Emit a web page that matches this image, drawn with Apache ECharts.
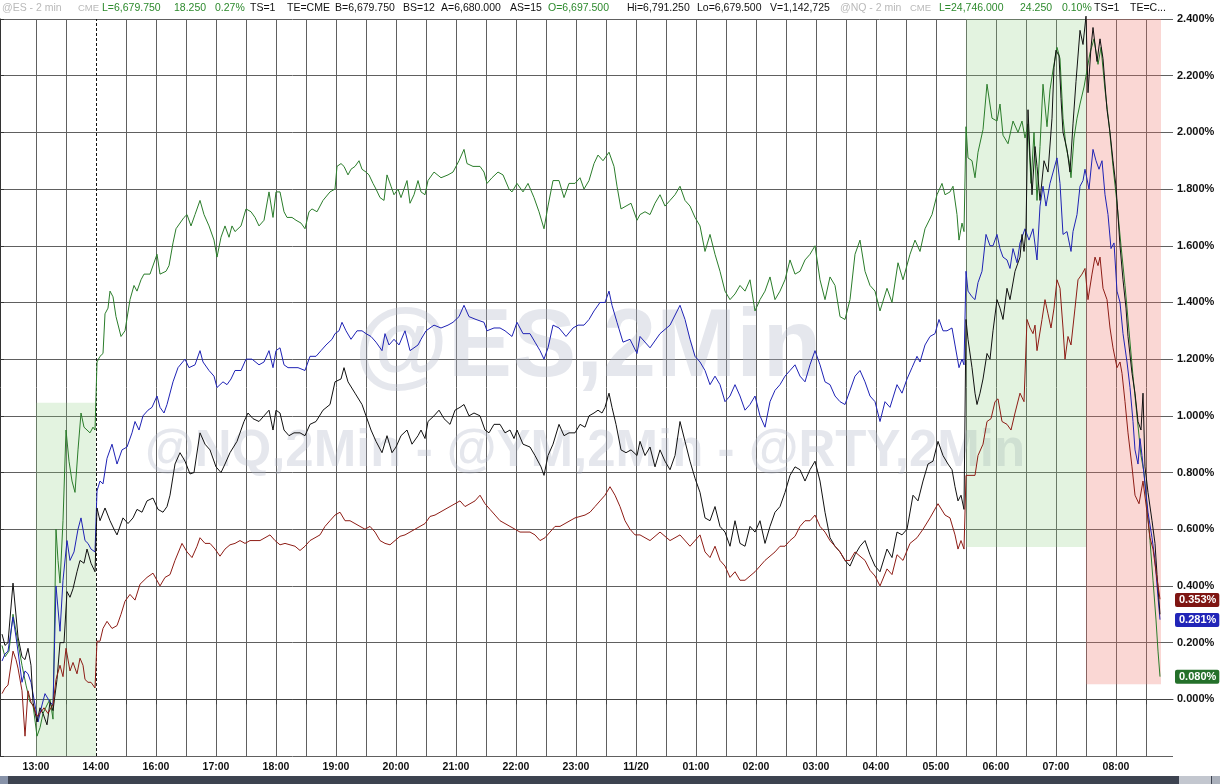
<!DOCTYPE html>
<html>
<head>
<meta charset="utf-8">
<title>@ES 2 min</title>
<script src="https://cdn.jsdelivr.net/npm/echarts@6/dist/echarts.min.js"></script>
<style>
  html, body { margin: 0; padding: 0; background: #fff; }
  #chart { width: 1220px; height: 784px; }
</style>
</head>
<body>
<div id="chart"></div>
<script>
// x = trading minutes since 12:24 (the 14:00-15:00 break is skipped), y = % change
const gridTicks = [36, 66, 126, 156, 186, 216, 246, 276, 306, 336, 366, 396, 426, 456, 486, 516, 546, 576, 606, 636,
  666, 696, 726, 756, 786, 816, 846, 876, 906, 936, 966, 996, 1026, 1056, 1086, 1116, 1146]
const hourTicks = [36, 96, 156, 216, 276, 336, 396, 456, 516, 576, 636, 696, 756, 816, 876, 936, 996, 1056, 1116]
const hourLabels = ['13:00', '14:00', '16:00', '17:00', '18:00', '19:00', '20:00', '21:00', '22:00', '23:00', '11/20',
  '01:00', '02:00', '03:00', '04:00', '05:00', '06:00', '07:00', '08:00']
const sessionBreak = 96

const green = [[2,0.19],[5,0.15],[9,0.17],[13,0.30],[18,0.20],[22,0.12],[26,0.05],[30,-0.01],[33,-0.02],[37,-0.13],[40,-0.10],[43,-0.05],[47,-0.02],[50,0.0],[53,-0.07],[56,0.60],[58,0.49],[60,0.41],[63,0.63],[66,0.95],[69,0.84],[72,0.77],[75,0.73],[78,0.88],[81,1.01],[84,0.96],[87,0.95],[90,0.94],[93,0.96],[95,0.95],
  [97,1.19],[100,1.21],[103,1.22],[105,1.36],[108,1.38],[110,1.44],[113,1.42],[116,1.35],[121,1.28],[125,1.30],[130,1.41],[134,1.46],[137,1.44],[141,1.48],[144,1.50],[150,1.50],[155,1.55],[157,1.57],[160,1.50],[166,1.51],[169,1.53],[173,1.61],[176,1.66],[184,1.70],[187,1.71],[191,1.67],[195,1.71],[200,1.76],[204,1.71],[209,1.67],[214,1.62],[217,1.56],[221,1.63],[225,1.67],[229,1.63],[232,1.67],[235,1.65],[241,1.67],[246,1.73],[251,1.72],[255,1.70],[259,1.67],[264,1.69],[269,1.79],[273,1.70],[276,1.79],[280,1.79],[284,1.72],[287,1.70],[292,1.70],[296,1.69],[301,1.68],[305,1.66],[309,1.72],[312,1.73],[317,1.72],[323,1.76],[330,1.79],[335,1.80],[337,1.88],[341,1.89],[344,1.88],[348,1.85],[351,1.87],[355,1.88],[359,1.90],[362,1.87],[366,1.86],[369,1.85],[373,1.82],[376,1.80],[380,1.77],[384,1.76],[387,1.85],[391,1.81],[394,1.78],[398,1.80],[401,1.77],[407,1.83],[410,1.75],[414,1.78],[418,1.83],[421,1.79],[425,1.78],[428,1.83],[434,1.86],[441,1.84],[448,1.85],[453,1.86],[459,1.90],[464,1.94],[467,1.89],[473,1.88],[480,1.88],[484,1.86],[487,1.82],[492,1.84],[498,1.86],[503,1.85],[509,1.80],[512,1.79],[517,1.82],[523,1.79],[528,1.82],[534,1.77],[539,1.72],[544,1.66],[548,1.74],[553,1.83],[559,1.83],[564,1.77],[569,1.82],[575,1.82],[580,1.84],[584,1.80],[589,1.83],[594,1.89],[598,1.92],[603,1.90],[609,1.93],[614,1.88],[617,1.81],[621,1.73],[626,1.74],[631,1.75],[637,1.69],
  [640,1.71],[645,1.72],[650,1.71],[655,1.75],[660,1.78],[665,1.74],[670,1.76],[675,1.78],[680,1.81],[685,1.76],[690,1.74],[695,1.70],[700,1.67],[705,1.58],[710,1.64],[715,1.57],[720,1.51],[725,1.44],[730,1.41],[735,1.43],[740,1.46],[745,1.44],[750,1.48],[755,1.37],[760,1.41],[765,1.44],[770,1.49],[775,1.41],[780,1.44],[785,1.48],[790,1.55],[795,1.50],[800,1.51],[805,1.55],[810,1.57],[815,1.60],[820,1.48],[825,1.41],[830,1.49],[835,1.46],[840,1.35],[845,1.34],[850,1.41],[855,1.57],[860,1.62],[865,1.51],[870,1.46],[875,1.44],[880,1.37],[887,1.45],[892,1.40],[898,1.54],[903,1.48],[910,1.57],[915,1.62],[920,1.58],[925,1.66],[932,1.71],[937,1.78],[942,1.82],[945,1.78],[950,1.79],[953,1.81],[957,1.71],[959,1.62],[962,1.68],[964,1.65],
  [966,2.02],[968,1.91],[972,1.90],[975,1.84],[978,1.93],[983,2.01],[987,2.17],[992,2.05],[997,2.04],[1000,2.10],[1003,1.99],[1008,1.96],[1013,2.04],[1018,2.00],[1022,2.04],[1025,1.98],[1028,2.03],[1031,1.82],[1034,2.00],[1037,1.76],[1040,1.95],[1043,2.17],[1047,2.02],[1050,2.15],[1053,2.22],[1057,2.30],[1060,2.26],[1063,2.05],[1066,1.95],[1069,1.90],[1071,1.84],[1074,1.98],[1077,2.05],[1080,2.10],[1084,2.16],[1087,2.22],[1090,2.28],[1094,2.33],[1098,2.24],[1101,2.30],[1105,2.15],[1109,2.03],[1113,1.88],[1117,1.75],[1121,1.60],[1125,1.46],[1129,1.30],[1133,1.14],[1137,1.00],[1141,0.86],[1144,0.80],[1147,0.68],[1150,0.56],[1153,0.42],[1156,0.28],[1158,0.17],[1160,0.08]]

const blue = [[2,0.135],[5,0.16],[8,0.17],[13,0.29],[16,0.22],[18,0.17],[22,0.06],[25,0.10],[28,0.09],[31,0.06],[35,-0.02],[38,-0.08],[42,-0.02],[45,0.02],[47,0.02],[50,-0.01],[53,-0.02],[56,0.40],[60,0.24],[63,0.42],[67,0.56],[70,0.49],[74,0.52],[78,0.60],[81,0.64],[85,0.56],[88,0.55],[91,0.53],[95,0.52],
  [97,0.735],[100,0.77],[103,0.76],[107,0.85],[112,0.90],[117,0.83],[122,0.88],[127,0.89],[132,0.94],[135,0.98],[139,0.95],[143,1.00],[148,1.02],[152,1.03],[157,1.07],[160,1.03],[164,1.01],[167,1.04],[173,1.12],[178,1.17],[185,1.20],[189,1.17],[195,1.18],[200,1.23],[203,1.19],[209,1.16],[214,1.14],[217,1.10],[223,1.12],[227,1.11],[231,1.13],[235,1.16],[241,1.16],[246,1.20],[252,1.20],[259,1.18],[264,1.19],[269,1.23],[273,1.17],[276,1.23],[280,1.24],[284,1.18],[288,1.17],[292,1.17],[298,1.17],[305,1.16],[310,1.21],[316,1.21],[321,1.23],[326,1.25],[332,1.27],[335,1.29],[339,1.30],[342,1.33],[346,1.30],[351,1.27],[357,1.30],[362,1.30],[366,1.29],[371,1.28],[376,1.26],[382,1.23],[385,1.29],[389,1.25],[394,1.27],[399,1.25],[405,1.30],[410,1.23],[418,1.25],[421,1.27],[426,1.30],[434,1.32],[441,1.31],[448,1.32],[453,1.33],[459,1.35],[464,1.39],[469,1.35],[476,1.34],[484,1.33],[487,1.30],[494,1.31],[500,1.31],[505,1.30],[512,1.28],[517,1.33],[523,1.29],[530,1.29],[535,1.26],[540,1.23],[544,1.20],[548,1.24],[553,1.32],[559,1.31],[566,1.28],[573,1.31],[578,1.32],[584,1.32],[589,1.34],[594,1.37],[600,1.40],[605,1.40],[609,1.44],[612,1.39],[617,1.33],[623,1.26],[630,1.27],[637,1.22],
  [640,1.28],[650,1.24],[660,1.29],[670,1.32],[680,1.39],[685,1.34],[690,1.27],[695,1.21],[700,1.19],[705,1.16],[710,1.11],[715,1.14],[720,1.11],[725,1.05],[730,1.07],[735,1.11],[740,1.07],[745,1.02],[750,1.04],[755,1.07],[760,1.00],[765,0.96],[770,1.05],[775,1.09],[780,1.11],[785,1.14],[790,1.16],[795,1.18],[800,1.14],[805,1.12],[810,1.18],[815,1.23],[820,1.18],[825,1.12],[830,1.11],[835,1.07],[840,1.05],[845,1.04],[850,1.09],[855,1.14],[860,1.16],[865,1.12],[870,1.07],[875,1.05],[880,0.98],[885,1.05],[890,1.03],[897,1.11],[902,1.08],[907,1.13],[912,1.17],[917,1.21],[920,1.19],[925,1.25],[930,1.28],[935,1.29],[939,1.34],[943,1.30],[947,1.30],[952,1.31],[955,1.25],[959,1.17],[962,1.20],[964,1.18],
  [966,1.51],[968,1.44],[972,1.42],[975,1.41],[978,1.47],[982,1.51],[986,1.64],[990,1.60],[993,1.60],[997,1.64],[1000,1.59],[1003,1.56],[1007,1.55],[1010,1.52],[1013,1.59],[1017,1.54],[1020,1.61],[1025,1.66],[1029,1.62],[1033,1.66],[1037,1.55],[1040,1.74],[1043,1.81],[1046,1.74],[1050,1.82],[1057,1.91],[1060,1.82],[1063,1.64],[1067,1.65],[1071,1.58],[1073,1.65],[1077,1.71],[1080,1.81],[1083,1.83],[1085,1.87],[1089,1.80],[1093,1.94],[1096,1.90],[1099,1.87],[1102,1.90],[1105,1.78],[1108,1.71],[1111,1.59],[1114,1.61],[1117,1.44],[1120,1.40],[1123,1.29],[1127,1.19],[1130,1.10],[1133,0.98],[1135,0.88],[1138,0.83],[1140,0.92],[1142,0.86],[1145,0.76],[1148,0.66],[1152,0.57],[1155,0.49],[1158,0.36],[1160,0.281]]

const black = [[2,0.23],[5,0.19],[8,0.20],[13,0.41],[18,0.22],[22,0.15],[25,0.14],[28,0.18],[31,0.12],[33,-0.01],[37,-0.08],[40,-0.03],[43,-0.05],[47,-0.09],[50,-0.01],[53,-0.04],[57,0.07],[60,0.20],[64,0.20],[67,0.38],[70,0.36],[73,0.39],[77,0.45],[80,0.49],[84,0.48],[87,0.53],[91,0.48],[95,0.45],
  [97,0.675],[100,0.63],[105,0.675],[110,0.63],[114,0.60],[117,0.58],[123,0.64],[128,0.62],[133,0.64],[137,0.67],[142,0.66],[147,0.70],[153,0.71],[158,0.67],[163,0.66],[167,0.68],[170,0.72],[175,0.83],[180,0.87],[185,0.84],[190,0.795],[194,0.80],[200,0.94],[205,0.90],[210,0.88],[216,0.82],[221,0.80],[225,0.83],[230,0.87],[237,0.91],[244,0.98],[248,1.01],[253,0.99],[259,0.98],[264,1.00],[269,1.02],[273,0.95],[276,1.02],[280,1.01],[284,0.95],[289,0.93],[294,0.94],[300,0.94],[305,0.93],[310,0.97],[316,0.98],[323,1.02],[330,1.04],[335,1.12],[341,1.13],[344,1.17],[348,1.12],[355,1.08],[362,1.04],[366,1.00],[371,0.95],[376,0.91],[382,0.87],[387,0.93],[392,0.87],[396,0.89],[401,0.93],[407,0.95],[412,0.90],[418,0.93],[421,0.95],[425,0.92],[428,0.98],[434,1.00],[439,1.02],[444,0.99],[450,0.97],[455,1.02],[460,1.03],[464,1.04],[469,1.00],[474,1.01],[480,1.00],[485,0.95],[489,0.94],[494,0.97],[500,0.97],[505,0.94],[510,0.95],[514,0.92],[517,0.95],[523,0.90],[530,0.89],[535,0.86],[541,0.82],[544,0.79],[548,0.86],[553,0.90],[559,0.97],[564,0.93],[569,0.94],[575,0.94],[580,0.97],[585,0.96],[589,1.00],[594,1.01],[598,1.02],[602,1.01],[605,1.03],[609,1.08],[612,1.03],[616,0.97],[621,0.88],[626,0.87],[631,0.88],[637,0.86],
  [640,0.91],[645,0.86],[650,0.89],[655,0.82],[660,0.88],[665,0.84],[670,0.81],[675,0.86],[680,0.98],[685,0.91],[690,0.84],[695,0.78],[700,0.73],[705,0.64],[710,0.63],[715,0.68],[720,0.61],[725,0.59],[730,0.54],[735,0.63],[740,0.55],[745,0.54],[750,0.61],[755,0.59],[760,0.63],[765,0.55],[770,0.61],[775,0.66],[780,0.68],[785,0.73],[790,0.79],[795,0.82],[800,0.81],[805,0.77],[810,0.81],[815,0.84],[820,0.77],[825,0.66],[830,0.57],[835,0.54],[840,0.52],[845,0.49],[850,0.47],[855,0.51],[860,0.54],[865,0.56],[870,0.51],[875,0.47],[880,0.45],[887,0.53],[892,0.50],[897,0.59],[902,0.58],[907,0.60],[913,0.72],[918,0.70],[923,0.77],[928,0.83],[933,0.84],[938,0.91],[943,0.86],[948,0.83],[952,0.81],[955,0.75],[958,0.70],[961,0.72],[964,0.67],
  [966,1.34],[968,1.27],[972,1.17],[975,1.08],[977,1.04],[980,1.08],[983,1.13],[987,1.22],[990,1.20],[993,1.30],[997,1.41],[1000,1.38],[1003,1.34],[1007,1.45],[1010,1.41],[1015,1.51],[1020,1.56],[1022,1.64],[1024,1.58],[1026,1.66],[1028,2.08],[1030,1.92],[1032,1.78],[1035,1.95],[1037,1.88],[1040,1.76],[1044,1.90],[1048,1.86],[1052,2.05],[1054,2.23],[1056,2.29],[1059,2.27],[1061,2.12],[1063,2.00],[1067,1.94],[1070,1.86],[1073,2.03],[1076,2.18],[1080,2.36],[1083,2.31],[1086,2.41],[1088,2.14],[1091,2.30],[1093,2.37],[1097,2.25],[1100,2.33],[1103,2.26],[1107,2.08],[1110,2.00],[1113,1.90],[1116,1.81],[1120,1.60],[1123,1.48],[1126,1.38],[1128,1.28],[1132,1.15],[1135,1.08],[1138,0.98],[1141,0.95],[1143,1.08],[1145,0.82],[1148,0.73],[1152,0.63],[1155,0.55],[1157,0.44],[1160,0.30]]

const brown = [[2,0.02],[5,0.04],[8,0.05],[13,0.17],[16,0.14],[18,0.11],[22,0.03],[25,-0.13],[28,0.03],[31,-0.01],[34,-0.03],[37,-0.06],[40,-0.05],[44,-0.03],[48,-0.05],[51,-0.03],[53,-0.02],[56,0.07],[60,0.12],[63,0.08],[66,0.18],[70,0.10],[73,0.13],[77,0.09],[80,0.145],[83,0.12],[85,0.07],[88,0.06],[91,0.06],[95,0.04],
  [97,0.205],[100,0.205],[103,0.25],[107,0.275],[112,0.25],[117,0.26],[121,0.30],[125,0.346],[130,0.37],[135,0.35],[140,0.406],[147,0.43],[153,0.445],[160,0.40],[165,0.43],[170,0.44],[175,0.49],[182,0.55],[187,0.52],[192,0.50],[197,0.54],[200,0.57],[205,0.55],[210,0.55],[215,0.53],[220,0.505],[225,0.53],[230,0.545],[235,0.55],[240,0.56],[245,0.55],[250,0.56],[255,0.56],[260,0.56],[265,0.57],[270,0.58],[275,0.56],[280,0.545],[285,0.55],[290,0.545],[295,0.54],[300,0.525],[305,0.54],[310,0.56],[315,0.57],[320,0.58],[325,0.61],[330,0.63],[335,0.65],[340,0.66],[345,0.63],[350,0.63],[355,0.62],[360,0.61],[365,0.60],[370,0.61],[375,0.59],[380,0.56],[385,0.55],[390,0.545],[395,0.56],[400,0.575],[405,0.58],[410,0.59],[415,0.60],[420,0.61],[425,0.62],[430,0.645],[435,0.65],[440,0.66],[445,0.67],[450,0.68],[455,0.69],[460,0.70],[465,0.68],[470,0.69],[475,0.70],[480,0.72],[485,0.69],[490,0.67],[495,0.65],[500,0.63],[505,0.62],[510,0.61],[515,0.60],[520,0.59],[525,0.59],[530,0.59],[535,0.58],[540,0.56],[545,0.57],[550,0.59],[555,0.61],[560,0.61],[565,0.62],[570,0.63],[575,0.64],[580,0.645],[585,0.65],[590,0.66],[595,0.68],[600,0.70],[605,0.72],[610,0.75],[615,0.72],[620,0.68],[625,0.63],[630,0.60],[635,0.58],
  [640,0.58],[650,0.56],[660,0.59],[670,0.56],[680,0.58],[690,0.54],[700,0.58],[705,0.52],[710,0.50],[715,0.54],[720,0.49],[725,0.47],[730,0.43],[735,0.45],[740,0.42],[745,0.42],[750,0.435],[755,0.45],[760,0.47],[765,0.49],[770,0.505],[775,0.52],[780,0.54],[785,0.54],[790,0.56],[795,0.575],[800,0.61],[805,0.63],[810,0.63],[815,0.65],[820,0.61],[825,0.59],[830,0.56],[835,0.54],[840,0.52],[845,0.49],[850,0.49],[855,0.52],[860,0.505],[865,0.49],[870,0.455],[875,0.435],[880,0.40],[887,0.46],[892,0.44],[897,0.51],[903,0.49],[910,0.55],[917,0.57],[923,0.60],[930,0.64],[938,0.69],[945,0.65],[950,0.64],[955,0.58],[958,0.53],[961,0.56],[964,0.53],
  [966,0.79],[970,0.79],[975,0.79],[978,0.86],[983,0.90],[987,0.98],[991,0.99],[995,1.05],[998,1.06],[1002,0.98],[1007,0.97],[1011,0.95],[1015,1.01],[1020,1.08],[1024,1.05],[1027,1.34],[1030,1.31],[1033,1.29],[1035,1.32],[1037,1.23],[1042,1.34],[1045,1.41],[1048,1.36],[1051,1.31],[1054,1.38],[1057,1.48],[1060,1.45],[1063,1.31],[1065,1.20],[1068,1.28],[1071,1.25],[1075,1.38],[1078,1.48],[1082,1.50],[1085,1.52],[1088,1.41],[1092,1.50],[1095,1.56],[1098,1.53],[1100,1.56],[1103,1.45],[1107,1.41],[1110,1.31],[1113,1.24],[1117,1.17],[1120,1.19],[1122,1.15],[1125,1.05],[1128,0.94],[1132,0.82],[1135,0.72],[1139,0.69],[1143,0.77],[1147,0.66],[1150,0.57],[1153,0.53],[1156,0.45],[1160,0.353]]

// shaded sessions: [xStart, xEnd, yLow, yHigh]
const greenZones = [[36, 96, -0.2, 1.046], [966, 1086, 0.537, 2.4]]
const redZones = [[1086, 1161, 0.053, 2.4]]

const header = [
  ['@ES - 2 min', 2, '#b9b9b9'], ['CME', 78, '#b9b9b9'], ['L=6,679.750', 102, '#2d8a2d'], ['18.250', 174, '#2d8a2d'],
  ['0.27%', 215, '#2d8a2d'], ['TS=1', 250, '#111'], ['TE=CME', 287, '#111'], ['B=6,679.750', 335, '#111'],
  ['BS=12', 403, '#111'], ['A=6,680.000', 441, '#111'], ['AS=15', 510, '#111'], ['O=6,697.500', 548, '#2d8a2d'],
  ['Hi=6,791.250', 627, '#111'], ['Lo=6,679.500', 697, '#111'], ['V=1,142,725', 770, '#111'],
  ['@NQ - 2 min', 840, '#b9b9b9'], ['CME', 910, '#b9b9b9'], ['L=24,746.000', 939, '#2d8a2d'], ['24.250', 1020, '#2d8a2d'],
  ['0.10%', 1062, '#2d8a2d'], ['TS=1', 1094, '#111'], ['TE=C...', 1130, '#111']
]

const chart = echarts.init(document.getElementById('chart'))

function lineSeries(name, data, color, tagColor) {
  const s = {
    name, type: 'line', data, z: 5,
    showSymbol: false, symbol: 'none', clip: false, animation: false,
    lineStyle: { color, width: 1 },
    emphasis: { disabled: true }
  }
  if (tagColor) {
    const last = data[data.length - 1][1]
    s.markLine = {
      silent: true, symbol: 'none', animation: false,
      lineStyle: { color: 'rgba(0,0,0,0)', width: 0 },
      data: [{ yAxis: last }],
      label: {
        show: true, position: 'end', distance: 2,
        formatter: last.toFixed(3) + '%',
        backgroundColor: tagColor, color: '#fff',
        fontFamily: 'Liberation Sans, Arial, sans-serif', fontSize: 11, fontWeight: 'bold',
        padding: [2, 3, 1, 4], borderRadius: 2
      }
    }
  }
  return s
}

const zoneArea = (zones, color) => zones.map(z => [
  { xAxis: z[0], yAxis: z[2], itemStyle: { color } },
  { xAxis: z[1], yAxis: z[3] }
])

const option = {
  backgroundColor: '#fff',
  animation: false,
  textStyle: { fontFamily: 'Liberation Sans, Arial, sans-serif' },
  grid: { left: -6, right: 47, top: 19, bottom: 28, containLabel: false, outerBoundsMode: 'none' },
  xAxis: {
    type: 'value', min: -6, max: 1173,
    axisLine: { show: true, lineStyle: { color: '#444', width: 1 } },
    axisTick: { show: true, customValues: hourTicks.concat(gridTicks).filter((v, i, a) => a.indexOf(v) === i && v !== sessionBreak).sort((a, b) => a - b), length: 5, lineStyle: { color: '#444' } },
    axisLabel: {
      customValues: hourTicks,
      formatter: v => hourLabels[hourTicks.indexOf(v)] || '',
      color: '#111', fontSize: 10.5, fontWeight: 'bold', margin: 6
    },
    splitLine: { show: true, lineStyle: { color: '#606060', width: 1 } }
  },
  yAxis: {
    type: 'value', position: 'right', min: -0.2, max: 2.4, interval: 0.2,
    axisLine: { show: true, lineStyle: { color: '#333', width: 1 } },
    axisTick: { show: true, length: 4, lineStyle: { color: '#333' } },
    axisLabel: {
      formatter: v => v < -0.01 ? '' : (Math.abs(v) < 1e-9 ? 0 : v).toFixed(3) + '%',
      color: '#111', fontSize: 11, fontWeight: 'bold', margin: 4
    },
    splitLine: { show: true, lineStyle: { color: '#606060', width: 1 } }
  },
  graphic: [
    {
      type: 'text', z: 1, silent: true, x: 588, y: 350,
      style: { text: '@ES,2Min', fill: 'rgba(175,182,200,0.33)', font: 'bold 96px "Liberation Sans", Arial, sans-serif', align: 'center', verticalAlign: 'middle' }
    },
    {
      type: 'text', z: 1, silent: true, x: 585, y: 452,
      style: { text: '@NQ,2Min - @YM,2Min - @RTY,2Min', fill: 'rgba(175,182,200,0.33)', font: 'bold 51px "Liberation Sans", Arial, sans-serif', align: 'center', verticalAlign: 'middle' }
    },
    { type: 'rect', z: 10, silent: true, shape: { x: 0, y: 776, width: 1220, height: 8 }, style: { fill: '#3d4350' } },
    { type: 'rect', z: 11, silent: true, shape: { x: 0, y: 776, width: 8, height: 8 }, style: { fill: '#8792a8' } },
    { type: 'rect', z: 11, silent: true, shape: { x: 1179, y: 776, width: 32, height: 8 }, style: { fill: '#c3c7cf' } },
    { type: 'rect', z: 11, silent: true, shape: { x: 1212, y: 776, width: 8, height: 8 }, style: { fill: '#aab0bb' } }
  ].concat(header.map(h => ({
    type: 'text', z: 10, silent: true, x: h[1], y: 8,
    style: { text: h[0], fill: h[2], font: (h[0] === 'CME' ? '9.5px' : '10.5px') + ' "Liberation Sans", Arial, sans-serif', verticalAlign: 'middle' }
  }))),
  series: [
    {
      name: 'zones', type: 'line', data: [], z: 2, silent: true,
      markArea: {
        silent: true, animation: false,
        data: zoneArea(greenZones, 'rgba(140,205,125,0.24)').concat(zoneArea(redZones, 'rgba(238,110,100,0.28)'))
      },
      markLine: {
        silent: true, symbol: 'none', animation: false,
        lineStyle: { color: '#111', type: [3, 2], width: 1 },
        label: { show: false },
        data: [{ xAxis: sessionBreak }]
      }
    },
    lineSeries('@NQ', green, '#2b7d2b', '#24702a'),
    lineSeries('@ES', blue, '#1f23b5', '#2125b8'),
    lineSeries('@YM', black, '#111111', null),
    lineSeries('@RTY', brown, '#8e1d16', '#7e1512')
  ]
}

chart.setOption(option)
</script>
</body>
</html>
